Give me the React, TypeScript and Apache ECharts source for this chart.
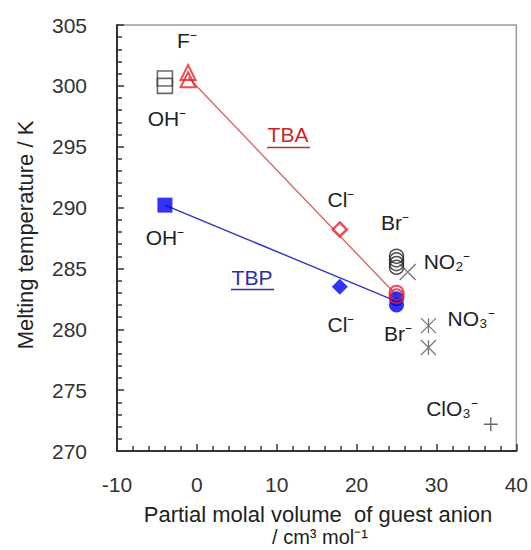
import React, { useEffect, useRef } from "react";
import * as echarts from "echarts";

// x: partial molal volume (cm3/mol), y: melting temperature (K)
const tbaOH = [[-4, 300.6], [-4, 300.0]];
const tbaF = [[-1.1, 301.1], [-1.1, 300.5]];
const tbaCl = [[17.9, 288.2]];
const tbaBr = [[25, 283.0], [25, 282.7]];
const tbaLine = [[-1.1, 300.7], [25, 282.8]];

const tbpOH = [[-4, 290.2]];
const tbpCl = [[17.9, 283.5]];
const tbpBr = [[25, 282.5], [25, 282.0]];
const tbpLine = [[-4, 290.2], [25, 282.3]];

const otherBr = [[25, 286.0], [25, 285.7], [25, 285.4], [25, 285.1]];
const otherNO2 = [[26.4, 284.7]];
const otherNO3 = [[29, 280.3], [29, 278.5]];
const otherClO3 = [[36.8, 272.2]];

const xTicks = { min: -10, max: 40, interval: 10 };
const yTicks = { min: 270, max: 305, interval: 5 };

const FONT = "'Liberation Sans', Arial, sans-serif";

export default function App() {
  const ref = useRef<HTMLDivElement>(null);
  useEffect(() => {
    if (!ref.current) return;
    const chart = echarts.init(ref.current, null, { renderer: "svg" });
    const red = "#e8202a";
    const blue = "#0000f0";
    const txt = (x: number, y: number, text: string, extra: any = {}, rot = 0) => ({
      type: "text",
      x,
      y,
      rotation: rot,
      style: {
        text,
        fill: "#222",
        font: `21px ${FONT}`,
        align: "center",
        verticalAlign: "middle",
        ...extra,
      },
      z: 100,
    });
    const cross = "path://M0,0L10,10M10,0L0,10";
    const aster = "path://M0,0L10,10M10,0L0,10M5,0L5,10";
    const plus = "path://M5,0L5,10M0,5L10,5";
    chart.setOption({
      animation: false,
      backgroundColor: "#fff",
      grid: {
        left: 117,
        right: 14,
        top: 25,
        bottom: 99,
        show: true,
        borderColor: "#999",
        borderWidth: 1.5,
        backgroundColor: "#fff",
      },
      xAxis: {
        type: "value",
        min: xTicks.min,
        max: xTicks.max,
        interval: xTicks.interval,
        splitLine: { show: false },
        axisLine: { show: true, onZero: false, lineStyle: { color: "#333", width: 2 } },
        axisTick: { show: true, inside: true, length: 7, lineStyle: { color: "#333", width: 1.5 } },
        minorTick: { show: true, splitNumber: 5, length: 5, lineStyle: { color: "#333", width: 1.5 } },
        axisLabel: { margin: 23, fontSize: 21, color: "#333", fontFamily: FONT },
      },
      yAxis: {
        type: "value",
        min: yTicks.min,
        max: yTicks.max,
        interval: yTicks.interval,
        splitLine: { show: false },
        axisLine: { show: true, onZero: false, lineStyle: { color: "#333", width: 2 } },
        axisTick: { show: true, inside: true, length: 7, lineStyle: { color: "#333", width: 1.5 } },
        minorTick: { show: true, splitNumber: 5, length: 5, lineStyle: { color: "#333", width: 1.5 } },
        axisLabel: { margin: 30, fontSize: 21, color: "#333", fontFamily: FONT },
      },
      series: [
        {
          type: "line",
          data: tbaLine,
          symbol: "none",
          lineStyle: { color: "#e06464", width: 1.4 },
          z: 1,
        },
        {
          type: "line",
          data: tbpLine,
          symbol: "none",
          lineStyle: { color: "#3434c4", width: 1.4 },
          z: 1,
        },
        {
          type: "scatter",
          data: tbaOH,
          symbol: "rect",
          symbolSize: 15,
          itemStyle: { color: "none", borderColor: "#444", borderWidth: 1.6 },
        },
        {
          type: "scatter",
          data: tbaF,
          symbol: "triangle",
          symbolSize: 15,
          itemStyle: { color: "none", borderColor: red, borderWidth: 2 },
        },
        {
          type: "scatter",
          data: tbaCl,
          symbol: "diamond",
          symbolSize: 14,
          itemStyle: { color: "#fff", borderColor: red, borderWidth: 2.5 },
        },
        {
          type: "scatter",
          data: otherBr,
          symbol: "circle",
          symbolSize: 14,
          itemStyle: { color: "none", borderColor: "#222", borderWidth: 1.5 },
        },
        {
          type: "scatter",
          data: tbpBr,
          symbol: "circle",
          symbolSize: 15,
          itemStyle: { color: blue },
        },
        {
          type: "scatter",
          data: tbaBr,
          symbol: "circle",
          symbolSize: 14,
          itemStyle: { color: "none", borderColor: red, borderWidth: 2 },
        },
        {
          type: "scatter",
          data: tbpOH,
          symbol: "rect",
          symbolSize: 15,
          itemStyle: { color: blue },
        },
        {
          type: "scatter",
          data: tbpCl,
          symbol: "diamond",
          symbolSize: 16,
          itemStyle: { color: blue },
        },
        {
          type: "scatter",
          data: otherNO2,
          symbol: cross,
          symbolSize: 16,
          itemStyle: { color: "none", borderColor: "#555", borderWidth: 1.3 },
        },
        {
          type: "scatter",
          data: otherNO3,
          symbol: aster,
          symbolSize: 15,
          itemStyle: { color: "none", borderColor: "#555", borderWidth: 1.3 },
        },
        {
          type: "scatter",
          data: otherClO3,
          symbol: plus,
          symbolSize: 14,
          itemStyle: { color: "none", borderColor: "#444", borderWidth: 1.4 },
        },
      ],
      graphic: [
        txt(187, 40, "F⁻"),
        txt(167, 118, "OH⁻"),
        txt(288, 134, "TBA", { fill: "#d02424" }),
        { type: "line", shape: { x1: 267, y1: 147.5, x2: 310, y2: 147.5 }, style: { stroke: "#d02424", lineWidth: 1.4 }, z: 100 },
        txt(341, 199, "Cl⁻"),
        txt(165, 237, "OH⁻"),
        txt(252, 277, "TBP", { fill: "#2e2ea8" }),
        { type: "line", shape: { x1: 231, y1: 289.5, x2: 274, y2: 289.5 }, style: { stroke: "#2e2ea8", lineWidth: 1.4 }, z: 100 },
        txt(341, 324, "Cl⁻"),
        txt(395, 222, "Br⁻"),
        txt(447, 261, "NO₂⁻"),
        txt(471, 318, "NO₃⁻"),
        txt(398, 333, "Br⁻"),
        txt(452, 408, "ClO₃⁻"),
        txt(25, 235, "Melting temperature / K", { font: `22px ${FONT}` }, Math.PI / 2),
        txt(318, 514, "Partial molal volume  of guest anion", { font: `22px ${FONT}` }),
        txt(320, 537, "/ cm³ mol⁻¹", { font: `20px ${FONT}` }),
      ],
    });
    return () => chart.dispose();
  }, []);
  return (
    <div
      ref={ref}
      style={{ position: "fixed", left: 0, top: 0, width: 531, height: 550 }}
    />
  );
}
